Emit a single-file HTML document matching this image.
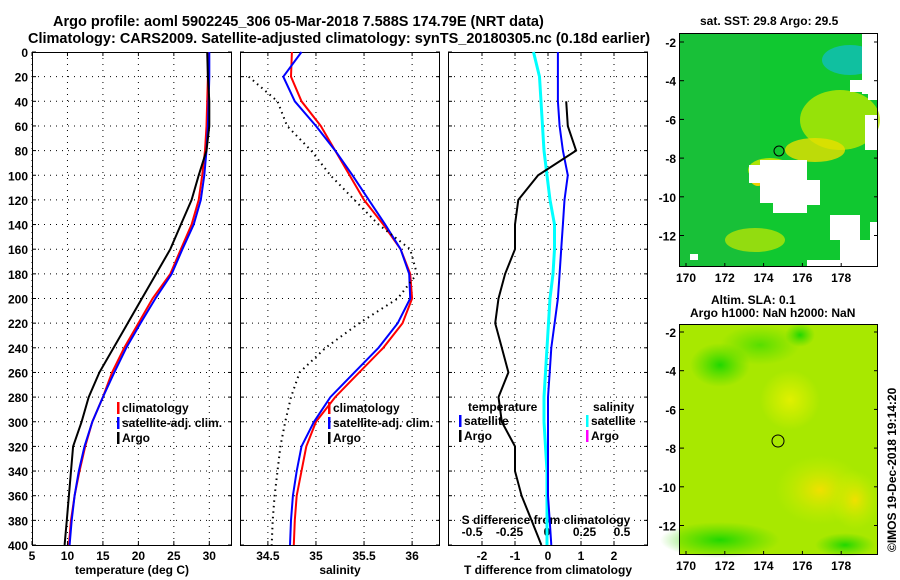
<!DOCTYPE html>
<html><head><meta charset="utf-8"><style>
html,body{margin:0;padding:0;background:#fff;width:900px;height:580px;overflow:hidden}
svg text{font-family:"Liberation Sans",sans-serif;font-weight:bold;fill:#000}
</style></head><body>
<svg id="fig" width="900" height="580" xmlns="http://www.w3.org/2000/svg">
<text x="53" y="26" font-size="14.5">Argo profile: aoml 5902245_306 05-Mar-2018 7.588S 174.79E (NRT data)</text>
<text x="28" y="43" font-size="14.5">Climatology: CARS2009. Satellite-adjusted climatology: synTS_20180305.nc (0.18d earlier)</text>
<g id="p1"></g>
<g id="p2"></g>
<g id="p3"></g>
<g id="maps">
 <defs>
  <radialGradient id="g1" cx="0.5" cy="0.5" r="0.5"><stop offset="0" stop-color="#f0e000"/><stop offset="1" stop-color="#c8f000" stop-opacity="0"/></radialGradient>
  <radialGradient id="g2" cx="0.5" cy="0.5" r="0.5"><stop offset="0" stop-color="#20d800"/><stop offset="1" stop-color="#40d800" stop-opacity="0"/></radialGradient>
  <radialGradient id="g3" cx="0.5" cy="0.5" r="0.5"><stop offset="0" stop-color="#e0f000"/><stop offset="1" stop-color="#e0f000" stop-opacity="0"/></radialGradient>
 </defs>
 <text x="700" y="25" font-size="12">sat. SST: 29.8 Argo: 29.5</text>
 <g>
  <rect x="680" y="34" width="198" height="233" fill="#10c830"/>
  <rect x="680" y="34" width="80" height="233" fill="#20b840" opacity="0.5"/>
  <ellipse cx="840" cy="120" rx="40" ry="30" fill="#b8e800" opacity="0.8"/>
  <ellipse cx="815" cy="150" rx="30" ry="12" fill="#e8e000" opacity="0.8"/>
  <ellipse cx="770" cy="170" rx="22" ry="12" fill="#c0e800" opacity="0.9"/>
  <ellipse cx="758" cy="178" rx="8" ry="8" fill="#f0d000"/>
  <ellipse cx="755" cy="240" rx="30" ry="12" fill="#c8e800" opacity="0.7"/>
  <ellipse cx="850" cy="60" rx="28" ry="15" fill="#10c0a0"/>
  <rect x="862" y="34" width="16" height="60" fill="#fff"/>
  <rect x="850" y="80" width="18" height="12" fill="#fff"/>
  <rect x="868" y="80" width="10" height="20" fill="#fff"/>
  <rect x="865" y="115" width="13" height="35" fill="#fff"/>
  <polygon points="760,160 807,160 807,180 820,180 820,205 807,205 807,213 773,213 773,203 760,203 760,183 749,183 749,165 760,165" fill="#fff"/>
  <rect x="830" y="215" width="30" height="25" fill="#fff"/>
  <rect x="840" y="240" width="38" height="27" fill="#fff"/>
  <rect x="870" y="222" width="8" height="20" fill="#fff"/>
  <rect x="807" y="260" width="33" height="7" fill="#fff"/>
  <rect x="690" y="254" width="8" height="6" fill="#fff"/>
  <circle cx="779" cy="151" r="5" fill="none" stroke="#000" stroke-width="1"/>
  <rect x="679.5" y="33.5" width="198" height="233" fill="none" stroke="#000"/>
 </g>
 <text x="711" y="304" font-size="12">Altim. SLA: 0.1</text>
 <text x="690" y="317" font-size="12">Argo h1000: NaN h2000: NaN</text>
 <g>
  <rect x="680" y="325" width="198" height="230" fill="#a8e800"/>
  <ellipse cx="720" cy="365" rx="30" ry="22" fill="url(#g2)"/>
  <ellipse cx="760" cy="345" rx="40" ry="20" fill="url(#g2)" opacity="0.6"/>
  <ellipse cx="800" cy="335" rx="15" ry="12" fill="url(#g2)"/>
  <ellipse cx="820" cy="490" rx="45" ry="35" fill="url(#g1)"/>
  <ellipse cx="855" cy="500" rx="25" ry="30" fill="url(#g1)"/>
  <ellipse cx="790" cy="400" rx="30" ry="30" fill="url(#g3)"/>
  <ellipse cx="720" cy="540" rx="60" ry="18" fill="url(#g2)"/>
  <ellipse cx="845" cy="545" rx="30" ry="12" fill="url(#g2)"/>
  <circle cx="778" cy="441" r="6" fill="none" stroke="#000" stroke-width="1"/>
  <rect x="679.5" y="324.5" width="198" height="230" fill="none" stroke="#000"/>
 </g>
 <text font-size="12" transform="translate(896,552) rotate(-90)">©IMOS 19-Dec-2018 19:14:20</text>
</g>
</svg>
<script>
const depths=[0,20,40,60,80,100,120,140,160,180,200,220,240,260,280,300,320,340,360,380,400];
const argoT=[29.7,29.8,30,30,29.6,28.5,27.5,26,24.5,22.5,20.5,18.5,16.5,14.5,13,12,10.8,10.5,10.2,9.9,9.6];
const climT=[29.8,29.8,29.7,29.6,29.4,29,28.5,27.5,26,24.5,22,20,18,16.3,15,13.5,12.5,11.7,11,10.5,10.2];
const satT=[30,30,29.9,29.8,29.6,29.3,28.8,27.8,26.2,24.7,22.4,20.3,18.3,16.6,15,13.5,12.4,11.6,11,10.6,10.3];
const climS=[34.75,34.74,34.85,35.05,35.2,35.35,35.5,35.7,35.88,35.98,36.0,35.9,35.7,35.45,35.2,35.0,34.9,34.85,34.8,34.78,34.77];
const satS=[34.85,34.66,34.78,35.0,35.2,35.38,35.55,35.72,35.88,35.97,35.98,35.85,35.65,35.4,35.15,34.98,34.85,34.8,34.76,34.74,34.73];
const argoS=[null,34.3,34.6,34.7,34.95,35.15,35.4,35.65,35.98,36.05,35.85,35.45,35.1,34.83,34.74,34.68,34.63,34.6,34.57,34.55,34.54];
const argoTdiff=[null,null,0.55,0.6,0.85,-0.3,-0.9,-1.0,-1.0,-1.3,-1.5,-1.6,-1.4,-1.2,-1.5,-1.4,-1.0,-1.0,-0.8,-0.5,-0.2];
const satTdiff=[0.3,0.3,0.3,0.35,0.45,0.6,0.5,0.45,0.4,0.35,0.3,0.2,0.1,0.05,0,0,0,0,0,0.05,0.1];
const satSdiff=[-0.09,-0.05,-0.04,-0.03,-0.02,0,0.02,0.05,0.05,0.04,0.02,0.01,0,-0.01,-0.02,-0.02,-0.01,0,0,0,0];
const tTicks=[5,10,15,20,25,30], sTicks=[34.5,35,35.5,36], dTicks=[-2,-1,0,1,2], sdTicks=[-0.5,-0.25,0,0.25,0.5];
const sdLabels=['-0.5','-0.25','0','0.25','0.5'];
const NS='http://www.w3.org/2000/svg';
const Y0=52,Y1=545;
const yS=d=>Y0+(d/400)*(Y1-Y0);
function mk(p,tag,a){const e=document.createElementNS(NS,tag);for(const k in a)e.setAttribute(k,a[k]);p.appendChild(e);return e;}
function panel(gid,x0,x1,dmin,dmax,ticks,labels,xlabel,showY){
 const g=document.getElementById(gid);
 const xs=v=>x0+(v-dmin)/(dmax-dmin)*(x1-x0);
 for(const d of depths){if(d>0&&d<400){const l=mk(g,'line',{x1:x0,x2:x1,y1:yS(d),y2:yS(d),stroke:'#000','stroke-dasharray':'1,5'});}
  mk(g,'line',{x1:x0,x2:x0+4,y1:yS(d),y2:yS(d),stroke:'#000'});mk(g,'line',{x1:x1-4,x2:x1,y1:yS(d),y2:yS(d),stroke:'#000'});
  if(showY){const t=mk(g,'text',{x:x0-4,y:yS(d)+5,'text-anchor':'end','font-size':12});t.textContent=d;}}
 ticks.forEach((v,i)=>{const x=xs(v);mk(g,'line',{x1:x,x2:x,y1:Y0,y2:Y1,stroke:'#000','stroke-dasharray':'1,5'});
  mk(g,'line',{x1:x,x2:x,y1:Y1-4,y2:Y1,stroke:'#000'});mk(g,'line',{x1:x,x2:x,y1:Y0,y2:Y0+4,stroke:'#000'});
  const t=mk(g,'text',{x:x,y:Y1+15,'text-anchor':'middle','font-size':12});t.textContent=labels[i];});
 const r=mk(g,'rect',{x:x0+0.5,y:Y0+0.5,width:x1-x0-1,height:Y1-Y0,fill:'none',stroke:'#000'});
 
 const t=mk(g,'text',{x:(x0+x1)/2,y:574,'text-anchor':'middle','font-size':12});t.textContent=xlabel;
 
 return {g,xs};
}
function line(P,vals,xs,color,w,dash,name){
 const pts=[];vals.forEach((v,i)=>{if(v!==null)pts.push(xs(v).toFixed(1)+','+yS(depths[i]).toFixed(1));});
 const a={points:pts.join(' '),fill:'none',stroke:color,'stroke-width':w};if(dash)a['stroke-dasharray']=dash;
 const e=mk(P,'polyline',a);
}
function legend(P,x,y,items){items.forEach((it,i)=>{mk(P,'rect',{x:x,y:y+i*15-10,width:2.5,height:12,fill:it[1]});
 const t=mk(P,'text',{x:x+5,y:y+i*15,'font-size':12});t.textContent=it[0];});}
const a=panel('p1',32,232,5,33.2,tTicks,tTicks.map(String),'temperature (deg C)',true);
line(a.g,climT,a.xs,'#f00',2,null,'temp-climatology-line');
line(a.g,satT,a.xs,'#00f',2,null,'temp-satellite-line');
line(a.g,argoT,a.xs,'#000',2,null,'temp-argo-line');
legend(a.g,117,412,[['climatology','#f00'],['satellite-adj. clim.','#00f'],['Argo','#000']]);
const b=panel('p2',240,440,34.21,36.29,sTicks,sTicks.map(String),'salinity',false);
line(b.g,climS,b.xs,'#f00',2,null,'sal-climatology-line');
line(b.g,satS,b.xs,'#00f',2,null,'sal-satellite-line');
line(b.g,argoS,b.xs,'#000',2,'1.5,4','sal-argo-line');
legend(b.g,328,412,[['climatology','#f00'],['satellite-adj. clim.','#00f'],['Argo','#000']]);
const c=panel('p3',448,648,-3.03,3.03,dTicks,dTicks.map(String),'T difference from climatology',false);
const sx=v=>547+v*150;
sdTicks.forEach((v,i)=>{const t=mk(c.g,'text',{x:sx(v),y:536,'text-anchor':'middle','font-size':12});t.textContent=sdLabels[i];});
const st=mk(c.g,'text',{x:546,y:524,'text-anchor':'middle','font-size':12});st.textContent='S difference from climatology';

line(c.g,satSdiff,sx,'#0ff',3,null,'sal-satellite-diff-line');
line(c.g,satTdiff,c.xs,'#00f',2,null,'temp-satellite-diff-line');
line(c.g,argoTdiff,c.xs,'#000',2,null,'temp-argo-diff-line');
const t1=mk(c.g,'text',{x:468,y:411,'font-size':12});t1.textContent='temperature';
const t2=mk(c.g,'text',{x:593,y:411,'font-size':12});t2.textContent='salinity';
legend(c.g,459,425,[['satellite','#00f'],['Argo','#000']]);
legend(c.g,586,425,[['satellite','#0ff'],['Argo','#f0f']]);
function mapAxes(yb,lat0y){
 const g=document.getElementById('maps');
 [170,172,174,176,178].forEach(l=>{const x=686+(l-170)*19.4;mk(g,'line',{x1:x,x2:x,y1:yb-4,y2:yb,stroke:'#000'});
  const t=mk(g,'text',{x:x,y:yb+15,'text-anchor':'middle','font-size':12});t.textContent=l;});
 [-2,-4,-6,-8,-10,-12].forEach(l=>{const y=lat0y+(-2-l)*19.35;mk(g,'line',{x1:680,x2:684,y1:y,y2:y,stroke:'#000'});mk(g,'line',{x1:874,x2:878,y1:y,y2:y,stroke:'#000'});
  const t=mk(g,'text',{x:676,y:y+5,'text-anchor':'end','font-size':12});t.textContent=l;});
}
mapAxes(267,42);
mapAxes(555,332);
</script>
</body></html>
